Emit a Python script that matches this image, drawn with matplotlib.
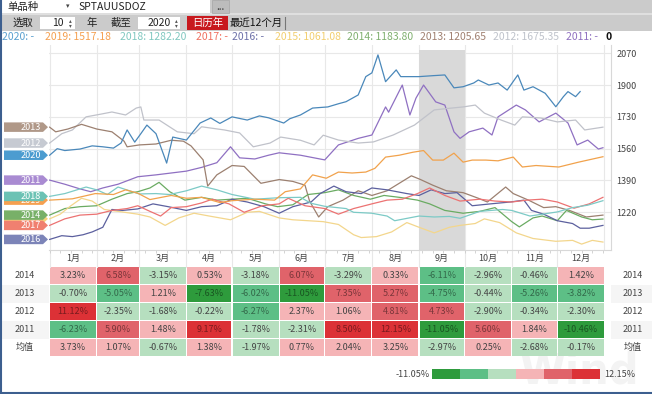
import numpy as np
import matplotlib.pyplot as plt
from matplotlib.patches import Rectangle, Polygon
from matplotlib.transforms import blended_transform_factory

plt.rcParams['font.family'] = ['Noto Sans CJK SC', 'DejaVu Sans']

# 月份与每月起始日
months = ['1月', '2月', '3月', '4月', '5月', '6月', '7月', '8月', '9月', '10月', '11月', '12月']
month_start = [0, 31, 59, 90, 120, 151, 181, 212, 243, 273, 304, 334, 365]
yticks = [1220, 1390, 1560, 1730, 1900, 2070]

# 各年金价 (年内第几天, 价格)
gold_2011 = [(0, 1392), (10, 1370), (20, 1345), (27, 1330), (35, 1350), (45, 1370), (58, 1410), (70, 1420),
             (80, 1430), (90, 1440), (100, 1460), (110, 1485), (119, 1570), (125, 1511), (135, 1505),
             (144, 1525), (151, 1538), (165, 1525), (181, 1500), (190, 1580), (203, 1615), (212, 1633),
             (221, 1783), (223, 1755), (232, 1900), (237, 1740), (241, 1830), (246, 1900), (254, 1810),
             (260, 1793), (266, 1650), (270, 1615), (276, 1650), (285, 1670), (291, 1633), (295, 1730),
             (307, 1793), (313, 1767), (322, 1703), (333, 1750), (341, 1697), (347, 1580), (354, 1606),
             (361, 1558), (364, 1565)]
gold_2012 = [(0, 1590), (8, 1640), (15, 1660), (24, 1730), (34, 1745), (41, 1756), (50, 1740), (57, 1777),
             (60, 1783), (62, 1713), (72, 1713), (84, 1650), (95, 1640), (100, 1677), (115, 1660), (125, 1644),
             (134, 1570), (145, 1590), (152, 1622), (165, 1605), (174, 1580), (180, 1632), (190, 1606),
             (203, 1590), (213, 1596), (226, 1633), (240, 1686), (253, 1767), (262, 1775), (272, 1783),
             (280, 1793), (286, 1750), (297, 1713), (306, 1686), (311, 1730), (323, 1724), (334, 1703),
             (346, 1713), (352, 1660), (364, 1675)]
gold_2013 = [(0, 1675), (4, 1650), (12, 1665), (21, 1690), (31, 1665), (41, 1650), (49, 1600), (51, 1570),
             (59, 1580), (70, 1585), (80, 1605), (88, 1600), (93, 1575), (101, 1500), (104, 1360), (110, 1420),
             (120, 1470), (128, 1465), (139, 1375), (151, 1395), (160, 1385), (168, 1365), (171, 1280),
             (177, 1195), (183, 1250), (193, 1285), (203, 1335), (212, 1310), (222, 1335), (230, 1375),
             (238, 1415), (244, 1395), (252, 1365), (261, 1335), (272, 1325), (282, 1295), (288, 1275),
             (300, 1355), (305, 1320), (315, 1285), (325, 1245), (333, 1250), (342, 1230), (353, 1195),
             (364, 1205)]
gold_2014 = [(0, 1205), (10, 1240), (20, 1250), (31, 1255), (41, 1290), (51, 1320), (58, 1330), (66, 1350),
             (72, 1380), (79, 1330), (89, 1285), (100, 1300), (110, 1285), (120, 1290), (130, 1295), (142, 1265),
             (150, 1250), (160, 1260), (170, 1315), (181, 1325), (190, 1340), (200, 1310), (211, 1290),
             (220, 1310), (230, 1300), (242, 1285), (250, 1265), (260, 1230), (272, 1215), (283, 1225),
             (293, 1245), (304, 1170), (309, 1142), (318, 1190), (324, 1200), (334, 1175), (340, 1230),
             (350, 1195), (357, 1180), (364, 1184)]
gold_2015 = [(0, 1185), (7, 1210), (14, 1255), (21, 1295), (28, 1280), (36, 1235), (45, 1225), (58, 1210),
             (66, 1195), (76, 1150), (85, 1190), (95, 1215), (105, 1200), (119, 1180), (130, 1220), (138, 1225),
             (151, 1190), (160, 1180), (170, 1175), (180, 1170), (190, 1155), (200, 1100), (205, 1085),
             (215, 1090), (225, 1115), (235, 1165), (243, 1140), (253, 1110), (263, 1140), (270, 1150),
             (280, 1160), (286, 1185), (296, 1165), (307, 1110), (318, 1080), (333, 1065), (344, 1070),
             (350, 1050), (357, 1070), (364, 1061)]
gold_2016 = [(0, 1075), (8, 1095), (15, 1090), (22, 1100), (28, 1115), (35, 1140), (41, 1235), (48, 1230),
             (58, 1238), (68, 1265), (78, 1250), (90, 1230), (100, 1250), (110, 1255), (120, 1290), (130, 1275),
             (141, 1250), (151, 1215), (160, 1250), (172, 1275), (178, 1320), (187, 1360), (195, 1330),
             (205, 1320), (212, 1350), (222, 1340), (235, 1320), (243, 1310), (251, 1340), (260, 1320),
             (268, 1325), (278, 1255), (290, 1265), (303, 1275), (312, 1285), (317, 1230), (325, 1210),
             (334, 1175), (344, 1160), (349, 1135), (355, 1135), (364, 1150)]
gold_2017 = [(0, 1150), (10, 1185), (20, 1205), (31, 1210), (41, 1230), (51, 1240), (58, 1255), (66, 1225),
             (73, 1200), (80, 1245), (90, 1250), (100, 1270), (107, 1290), (118, 1265), (128, 1220), (140, 1255),
             (151, 1265), (157, 1295), (168, 1255), (181, 1240), (190, 1210), (200, 1240), (212, 1265),
             (222, 1285), (232, 1290), (242, 1320), (250, 1350), (260, 1310), (270, 1280), (283, 1290),
             (293, 1280), (304, 1275), (314, 1285), (324, 1290), (334, 1275), (345, 1242), (355, 1265),
             (364, 1300)]
gold_2018 = [(0, 1305), (10, 1320), (24, 1355), (31, 1340), (38, 1315), (45, 1355), (59, 1318), (70, 1320),
             (79, 1315), (90, 1335), (100, 1360), (110, 1340), (120, 1315), (135, 1290), (151, 1298), (165, 1300),
             (172, 1268), (181, 1252), (195, 1240), (200, 1220), (212, 1215), (222, 1200), (227, 1175),
             (243, 1200), (253, 1195), (263, 1198), (270, 1188), (283, 1225), (298, 1235), (304, 1230),
             (316, 1200), (334, 1222), (344, 1245), (354, 1258), (364, 1282)]
gold_2019 = [(0, 1285), (15, 1292), (30, 1320), (42, 1315), (50, 1340), (58, 1322), (66, 1288), (80, 1310),
             (90, 1295), (100, 1300), (112, 1272), (120, 1282), (135, 1290), (148, 1285), (155, 1330), (165, 1345),
             (173, 1420), (182, 1402), (190, 1435), (199, 1430), (208, 1435), (214, 1455), (221, 1515),
             (230, 1525), (239, 1541), (246, 1550), (252, 1499), (259, 1499), (266, 1536), (272, 1488),
             (278, 1499), (287, 1499), (295, 1495), (305, 1515), (311, 1462), (320, 1470), (335, 1462),
             (348, 1488), (364, 1517)]
gold_2020 = [(0, 1525), (5, 1560), (10, 1550), (20, 1558), (28, 1575), (35, 1570), (42, 1563), (47, 1590),
             (51, 1660), (56, 1595), (60, 1640), (64, 1686), (70, 1640), (77, 1483), (81, 1622), (90, 1606),
             (99, 1697), (106, 1724), (112, 1695), (120, 1730), (130, 1713), (138, 1735), (144, 1725),
             (154, 1697), (158, 1720), (165, 1740), (173, 1777), (183, 1783), (190, 1800), (195, 1811),
             (203, 1847), (208, 1945), (212, 1965), (216, 2061), (221, 1918), (228, 1981), (231, 1945),
             (243, 1945), (252, 1950), (260, 1954), (266, 1885), (272, 1891), (279, 1911), (282, 1927),
             (289, 1900), (295, 1911), (301, 1873), (308, 1954), (312, 1873), (318, 1891), (326, 1856),
             (333, 1784), (338, 1838), (341, 1865), (346, 1838), (349, 1865)]

legend_text = ['2020: -', '2019: 1517.18', '2018: 1282.20', '2017: -', '2016: -',
               '2015: 1061.08', '2014: 1183.80', '2013: 1205.65', '2012: 1675.35', '2011: -']

# 月度涨跌幅 (%)
row_names = ['2014', '2013', '2012', '2011', '均值']
ret_2014 = [3.23, 6.58, -3.15, 0.53, -3.18, 6.07, -3.29, 0.33, -6.11, -2.96, -0.46, 1.42]
ret_2013 = [-0.70, -5.05, 1.21, -7.63, -6.02, -11.05, 7.35, 5.27, -4.75, -0.44, -5.26, -3.82]
ret_2012 = [11.12, -2.35, -1.68, -0.22, -6.27, 2.37, 1.06, 4.81, 4.73, -2.90, -0.34, -2.30]
ret_2011 = [-6.23, 5.90, 1.48, 9.17, -1.78, -2.31, 8.50, 12.15, -11.05, 5.60, 1.84, -10.46]
ret_avg = [3.73, 1.07, -0.67, 1.38, -1.97, 0.77, 2.04, 3.25, -2.97, 0.25, -2.68, -0.17]

series = {'2011': gold_2011, '2012': gold_2012, '2013': gold_2013, '2014': gold_2014, '2015': gold_2015,
          '2016': gold_2016, '2017': gold_2017, '2018': gold_2018, '2019': gold_2019, '2020': gold_2020}
line_col = {'2011': '#8f70c2', '2012': '#c0c2ca', '2013': '#9c8070', '2014': '#6aab62', '2015': '#f3d68c',
            '2016': '#5c609e', '2017': '#ec7272', '2018': '#7ccac6', '2019': '#f1a24c', '2020': '#4a88ba'}
tag_col = {'2011': '#a98bd2', '2012': '#c6cad2', '2013': '#b09888', '2014': '#78b068', '2015': '#f5d27a',
           '2016': '#7c84b8', '2017': '#f08070', '2018': '#6cc2b4', '2019': '#f5a050', '2020': '#4c9cd0'}
leg_col = ['#5aa0d0', '#f5a050', '#80c8c0', '#f07060', '#6c70a8', '#f2cf70', '#80b070', '#a08070', '#bfc3cb', '#9070c0']
leg_x = [2, 45, 120, 196, 232, 275, 347, 420, 493, 566]

W, H = 652, 394
fig = plt.figure(figsize=(W / 100, H / 100), dpi=100)
fig.patch.set_facecolor('white')


def px_box(x0, y0, x1, y1):
    return [x0 / W, 1 - y1 / H, (x1 - x0) / W, (y1 - y0) / H]


bg = fig.add_axes([0, 0, 1, 1], zorder=0)
bg.set_xlim(0, W)
bg.set_ylim(H, 0)
bg.axis('off')

# 顶部工具栏
bg.add_patch(Rectangle((0, 0), W, 31, fc='#cbcbcb', ec='none'))
bg.add_patch(Rectangle((0, 13), W, 2, fc='#dfdfdf', ec='none'))
bg.add_patch(Rectangle((0, 0), 210, 13, fc='white', ec='none'))
bg.add_patch(Rectangle((212, 0), 17, 13, fc='#bcbcbc', ec='#a5a5a5', lw=0.5))
bg.text(7, 6.5, '单品种', fontsize=7.5, va='center', color='#222')
bg.text(68, 6.5, '▾', fontsize=5, va='center', ha='center', color='#444')
bg.text(78, 6.5, 'SPTAUUSDOZ', fontsize=7.5, va='center', color='#222')
bg.text(220.5, 7, '...', fontsize=7, va='center', ha='center', color='#333')
bg.text(23, 23, '选取', fontsize=7.5, va='center', ha='center', color='#222')
bg.add_patch(Rectangle((40, 17), 35, 12, fc='white', ec='none'))
bg.text(64, 23, '10', fontsize=7.5, va='center', ha='right', color='#222')
bg.add_patch(Rectangle((138, 17), 42, 12, fc='white', ec='none'))
bg.text(171, 23, '2020', fontsize=7.5, va='center', ha='right', color='#222')
for sx in (70, 176):
    bg.text(sx, 20.5, '▴', fontsize=4, va='center', ha='center', color='#555')
    bg.text(sx, 25.5, '▾', fontsize=4, va='center', ha='center', color='#555')
bg.text(92, 23, '年', fontsize=7.5, va='center', ha='center', color='#222')
bg.text(121, 23, '截至', fontsize=7.5, va='center', ha='center', color='#222')
bg.add_patch(Rectangle((187, 16), 41, 14, fc='#c8191e', ec='none'))
bg.text(207.5, 23, '日历年', fontsize=7.5, va='center', ha='center', color='white')
bg.text(256, 23, '最近12个月', fontsize=7.5, va='center', ha='center', color='#111')
bg.plot([285, 285], [17, 29], color='#777', lw=0.8)

# 图例行
for t, c, x in zip(legend_text, leg_col, leg_x):
    bg.text(x, 37, t, fontsize=7.5, color=c, va='center')
bg.text(605, 37, '0', fontsize=7.5, color='#111', va='center', fontweight='bold')

# 水印
bg.text(580, 384, 'Wind', fontsize=30, color='#f3f3f3', fontweight='bold', ha='center',
        va='baseline', family='DejaVu Sans', zorder=0.5)

# 主图
ymin, ymax = 1018.5, 2114
ax = fig.add_axes(px_box(49, 45, 611, 250), zorder=2)
ax.patch.set_alpha(0)
for d in month_start:
    ax.axvline(d, color='#e8e8e8', lw=0.8, zorder=0.5)
for v in yticks:
    ax.axhline(v, color='#e8e8e8', lw=0.8, zorder=0.5)
ax.axvspan(243, 273, ymax=0.976, color='#d9d9d9', lw=0, zorder=0.8)

for yr, pts in series.items():
    d, v = np.array(pts).T
    ax.plot(d, v, color=line_col[yr], lw=0.9, zorder=2)

# 左侧年份标签 (后画的压住先画的)
tr = blended_transform_factory(bg.transData, ax.transData)
hh = 4.75 * (ymax - ymin) / 205
tag_order = ['2016', '2015', '2017', '2014', '2019', '2018', '2011', '2012', '2020', '2013']
for k, yr in enumerate(tag_order):
    y0 = series[yr][0][1]
    z = 3 + 0.1 * k
    ax.add_patch(Polygon([(4, y0 - hh), (43, y0 - hh), (48, y0), (43, y0 + hh), (4, y0 + hh)],
                         closed=True, transform=tr, fc=tag_col[yr], ec='none', clip_on=False, zorder=z))
    ax.text(41, y0, yr, transform=tr, color='white', fontsize=6.5, ha='right', va='center',
            clip_on=False, zorder=z + 0.05)

ax.set_xlim(-0.4, 369.3)
ax.set_ylim(ymin, ymax)
ax.set_yticks(yticks)
ax.yaxis.tick_right()
ax.tick_params(axis='y', length=0, pad=4, labelsize=6.5, labelcolor='#444')
ax.set_xticks([])
ax.set_xticks(np.arange(0, 365, 7), minor=True)
ax.tick_params(axis='x', which='minor', length=2.5, color='#cccccc')
for s in ['left', 'top']:
    ax.spines[s].set_visible(False)
for s in ['right', 'bottom']:
    ax.spines[s].set_color('#d8d8d8')
    ax.spines[s].set_linewidth(0.8)

# 月度收益表
lo, hi = -11.05, 12.15
greens = ['#2e9b3c', '#5dbf86', '#b6dfbf']
reds = ['#f5b4b6', '#e0636a', '#dc3136']


def cell_color(v):
    if v < 0:
        return greens[min(int((v - lo) / (-lo / 3)), 2)]
    return reds[min(int(v / (hi / 3)), 2)]


tb = fig.add_axes(px_box(49, 248.5, 611, 356.5), zorder=1)
tb.set_xlim(-0.4, 369.3)
tb.set_ylim(6, 0)
tb.axis('off')
for i, m in enumerate(months):
    xc = (month_start[i] + month_start[i + 1]) / 2
    tb.text(xc, 0.55, m, ha='center', va='center', fontsize=6.5, color='#444')
    tb.plot([month_start[i], month_start[i]], [0.1, 1], color='#e8e8e8', lw=0.8)

rows = [ret_2014, ret_2013, ret_2012, ret_2011, ret_avg]
for r, (name, vals) in enumerate(zip(row_names, rows)):
    if r in (1, 3):
        bg.add_patch(Rectangle((0, 266.5 + 18 * r), 49, 18, fc='#f5f5f5', ec='none'))
        bg.add_patch(Rectangle((611, 266.5 + 18 * r), 41, 18, fc='#f5f5f5', ec='none'))
    bg.text(25, 275.5 + 18 * r, name, ha='center', va='center', fontsize=6.5, color='#444')
    bg.text(633, 275.5 + 18 * r, name, ha='center', va='center', fontsize=6.5, color='#444')
    for i, v in enumerate(vals):
        c = cell_color(v)
        tb.add_patch(Rectangle((month_start[i] + 0.35, r + 1.03), month_start[i + 1] - month_start[i] - 0.7,
                               0.94, fc=c, ec='none'))
        if c in (greens[2], reds[0]):
            tc = '#444444'
        else:
            tc = tuple(np.array(plt.matplotlib.colors.to_rgb(c)) * 0.55)
        xc = (month_start[i] + month_start[i + 1]) / 2
        tb.text(xc, r + 1.52, f'{v:.2f}%', ha='center', va='center', fontsize=6.5, color=tc)

# 色阶图例
for k, c in enumerate(greens + reds):
    bg.add_patch(Rectangle((432 + 28 * k, 369), 28, 10, fc=c, ec='none'))
bg.text(430, 374.5, f'{lo:.2f}%', ha='right', va='center', fontsize=6.5, color='#444')
bg.text(604, 374.5, f'{hi:.2f}%', ha='left', va='center', fontsize=6.5, color='#444')

# 外框
bg.plot([0.8, 0.8], [0, H], color='#3d5f8f', lw=1.5)
bg.plot([0, W], [393.2, 393.2], color='#3d5f8f', lw=1.5)

fig.savefig('out.png', dpi=100)
